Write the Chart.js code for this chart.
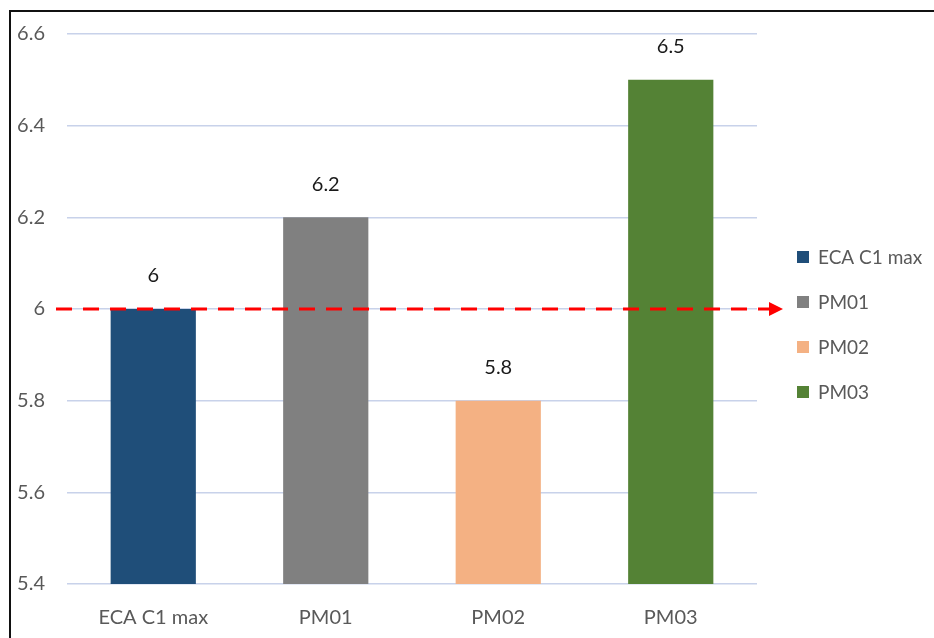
<!DOCTYPE html>
<html>
<head>
<meta charset="utf-8">
<script src="https://cdn.jsdelivr.net/npm/chart.js@4/dist/chart.umd.min.js"></script>
<style>
  html, body { margin: 0; padding: 0; background: #fff; }
  #wrap { position: relative; width: 934px; height: 638px; overflow: hidden; }
  #frame { position: absolute; left: 9px; top: 10px; width: 940px; height: 640px;
           border-left: 2px solid #111; border-top: 2px solid #111; box-sizing: border-box; }
  canvas { position: absolute; left: 0; top: 0; }
</style>
</head>
<body>
<div id="wrap">
  <canvas id="c" width="934" height="638"></canvas>
  <div id="frame"></div>
</div>
<script>
// Categories and values
const categories = ['ECA C1 max', 'PM01', 'PM02', 'PM03'];
const values = [6, 6.2, 5.8, 6.5];
const valueLabels = ['6', '6.2', '5.8', '6.5'];
const barColors = ['#1f4e79', '#808080', '#f4b183', '#548235'];
// Reference threshold drawn as a dashed arrow
const thresholdValue = 6;
// Axis range
const yMin = 5.4, yMax = 6.6, yStep = 0.2;

const FONT = 'Lato, "Open Sans", sans-serif';
const GREY = '#595959';

// Value labels above each bar
const valueLabelPlugin = {
  id: 'valueLabels',
  afterDatasetsDraw(chart) {
    const ctx = chart.ctx;
    const meta = chart.getDatasetMeta(0);
    ctx.save();
    ctx.font = '20px ' + FONT;
    ctx.fillStyle = '#1a1a1a';
    ctx.textAlign = 'center';
    ctx.textBaseline = 'middle';
    meta.data.forEach((bar, i) => {
      ctx.fillText(valueLabels[i], bar.x, bar.y - 33);
    });
    ctx.restore();
  }
};

// Dashed red threshold line with an arrow head
const thresholdPlugin = {
  id: 'threshold',
  afterDatasetsDraw(chart) {
    const ctx = chart.ctx;
    const y = chart.scales.y.getPixelForValue(thresholdValue);
    const x0 = chart.chartArea.left - 11;
    const tip = chart.chartArea.right + 26;
    const base = tip - 14;
    ctx.save();
    ctx.strokeStyle = '#ff0000';
    ctx.lineWidth = 3;
    ctx.setLineDash([16, 11]);
    ctx.beginPath();
    ctx.moveTo(x0, y);
    ctx.lineTo(base, y);
    ctx.stroke();
    ctx.setLineDash([]);
    ctx.fillStyle = '#ff0000';
    ctx.beginPath();
    ctx.moveTo(tip, y);
    ctx.lineTo(base, y - 7);
    ctx.lineTo(base, y + 7);
    ctx.closePath();
    ctx.fill();
    ctx.restore();
  }
};

// Vertical legend on the right
const sideLegendPlugin = {
  id: 'sideLegend',
  afterDraw(chart) {
    const ctx = chart.ctx;
    const left = chart.chartArea.right + 40;
    const top = 257;
    const gap = 45;
    ctx.save();
    ctx.font = '19px ' + FONT;
    ctx.textBaseline = 'middle';
    ctx.textAlign = 'left';
    categories.forEach((name, i) => {
      const cy = top + i * gap;
      ctx.fillStyle = barColors[i];
      ctx.fillRect(left, cy - 6, 12, 12);
      ctx.fillStyle = GREY;
      ctx.fillText(name, left + 21, cy + 1);
    });
    ctx.restore();
  }
};

new Chart(document.getElementById('c'), {
  type: 'bar',
  data: {
    labels: categories,
    datasets: [{
      data: values,
      backgroundColor: barColors,
      borderWidth: 0,
      categoryPercentage: 1,
      barPercentage: 0.494
    }]
  },
  options: {
    responsive: false,
    animation: false,
    layout: { padding: { top: 33, right: 177, left: 0, bottom: 0 } },
    plugins: {
      legend: { display: false },
      tooltip: { enabled: false }
    },
    scales: {
      x: {
        grid: { display: false },
        border: { display: false },
        ticks: { color: GREY, font: { family: FONT, size: 20 }, padding: 14 },
        afterFit(scale) { scale.height = 54; }
      },
      y: {
        min: yMin,
        max: yMax,
        grid: { color: '#c8d2ea', lineWidth: 1.5, drawTicks: false },
        border: { display: false },
        ticks: {
          stepSize: yStep,
          color: GREY,
          font: { family: FONT, size: 20 },
          padding: 22,
          callback: v => String(+(+v).toFixed(1))
        },
        afterFit(scale) { scale.width = 67; }
      }
    }
  },
  plugins: [valueLabelPlugin, thresholdPlugin, sideLegendPlugin]
});
</script>
</body>
</html>
